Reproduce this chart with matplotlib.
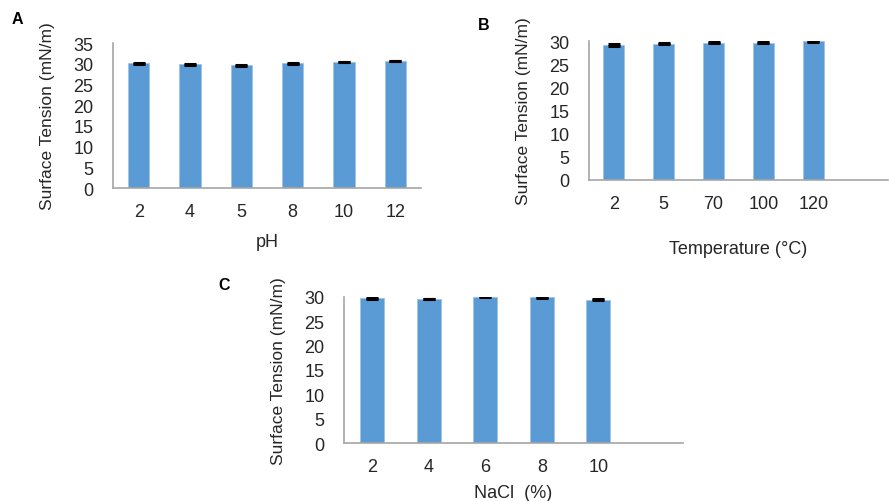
import numpy as np
import matplotlib
matplotlib.use("Agg")
import matplotlib.pyplot as plt

plt.rcParams['font.family'] = ['Liberation Sans', 'DejaVu Sans']

# panel A - pH
ph_labels = ['2', '4', '5', '8', '10', '12']
ph_vals = [30.1, 29.9, 29.6, 30.1, 30.4, 30.7]
ph_err = [0.12, 0.12, 0.12, 0.12, 0.06, 0.06]

# panel B - temperature
temp_labels = ['2', '5', '70', '100', '120']
temp_vals = [29.2, 29.5, 29.7, 29.7, 30.0]
temp_err = [0.12, 0.12, 0.06, 0.06, 0.06]

# panel C - NaCl
nacl_labels = ['2', '4', '6', '8', '10']
nacl_vals = [29.7, 29.5, 30.0, 29.9, 29.4]
nacl_err = [0.12, 0.06, 0.12, 0.06, 0.12]

blue = '#5B9BD5'
txt = '#262626'


def panel(ax, labels, vals, err, nslots, ymax, xlabel, xlpad):
    x = np.arange(len(labels))
    ax.bar(x, vals, width=0.42, color=blue, edgecolor='#9dc3e6', linewidth=0.6, zorder=2)
    ax.errorbar(x, vals, yerr=err, fmt='none', ecolor='black', elinewidth=1.2,
                capsize=4.5, capthick=2.2, zorder=3)
    ax.set_xlim(-0.5, nslots - 0.5)
    ax.set_ylim(0, ymax)
    ax.set_yticks(np.arange(0, ymax + 1, 5))
    ax.set_xticks(x)
    ax.set_xticklabels(labels)
    ax.tick_params(length=0, labelsize=13, colors=txt, pad=11)
    ax.tick_params(axis='y', pad=14)
    for s in ['top', 'right']:
        ax.spines[s].set_visible(False)
    for s in ['left', 'bottom']:
        ax.spines[s].set_color('#a6a6a6')
        ax.spines[s].set_linewidth(1.2)
    ax.set_ylabel('Surface Tension (mN/m)', fontsize=12.5, color=txt, labelpad=13)
    ax.set_xlabel(xlabel, fontsize=13, color=txt, labelpad=xlpad)


fig = plt.figure(figsize=(8.89, 5.02), dpi=100)

axA = fig.add_axes([0.1271, 0.6235, 0.3465, 0.2888])
panel(axA, ph_labels, ph_vals, ph_err, 6, 35, 'pH', 9)

axB = fig.add_axes([0.6625, 0.640, 0.3363, 0.2757])
panel(axB, temp_labels, temp_vals, temp_err, 6, 30, 'Temperature (°C)', 20)

axC = fig.add_axes([0.387, 0.1155, 0.3813, 0.2914])
panel(axC, nacl_labels, nacl_vals, nacl_err, 6, 30, 'NaCl  (%)', 6)

fig.text(12 / 889, 1 - 20 / 502, 'A', fontsize=11.5, fontweight='bold', va='center', color='black')
fig.text(478 / 889, 1 - 25 / 502, 'B', fontsize=11.5, fontweight='bold', va='center', color='black')
fig.text(218 / 889, 1 - 285 / 502, 'C', fontsize=11.5, fontweight='bold', va='center', color='black')

fig.savefig('out.png', dpi=100)
